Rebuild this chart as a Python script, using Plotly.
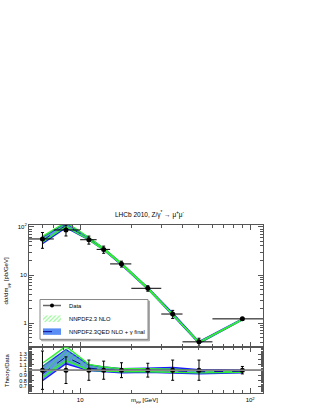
import plotly.graph_objects as go
import numpy as np

# ---------------- data ----------------
mass_center = [6.0, 8.25, 11.25, 13.75, 17.5, 25.0, 35.0, 50.0, 90.0]
mass_lo = [5.0, 7.0, 10.0, 12.5, 15.0, 20.0, 30.0, 40.0, 60.0]
mass_hi = [7.0, 10.0, 12.5, 15.0, 20.0, 30.0, 40.0, 60.0, 120.0]
xsec = [56.0, 86.0, 54.0, 34.0, 17.0, 5.3, 1.55, 0.41, 1.23]
rel_err = [0.36, 0.25, 0.19, 0.17, 0.14, 0.13, 0.19, 0.19, 0.07]

# theory / data ratios
nlo_lo = [0.86, 1.18, 1.00, 0.98, 0.97, 0.97, 0.96, 0.95, 0.96]
nlo_hi = [1.13, 1.45, 1.11, 1.06, 1.03, 1.03, 1.02, 0.99, 0.99]
qed_lo = [0.80, 1.12, 0.99, 0.97, 0.95, 0.96, 0.94, 0.93, 0.95]
qed_c = [0.93, 1.25, 1.04, 1.01, 0.99, 1.00, 0.99, 0.97, 0.98]
qed_hi = [1.07, 1.39, 1.10, 1.06, 1.03, 1.04, 1.05, 1.01, 1.00]

x = np.array(mass_center)
y = np.array(xsec)
err = y * np.array(rel_err)
ex_p = np.array(mass_hi) - x
ex_m = x - np.array(mass_lo)

W, H = 315, 407
FONT = "Liberation Sans, Arial, sans-serif"
FRAME = "#555555"
BLUE_FILL = "rgba(80,130,240,0.9)"
BLUE_EDGE = "#1a1aff"
BLUE_C = "#0a0a9a"
GREEN = "#33ee33"

# pixel geometry -> domains
x0p, x1p = 29, 263
top0, top1 = 224, 347
bot0, bot1 = 347, 393
xd = [x0p / W, x1p / W]
yd_top = [(H - top1) / H, (H - top0) / H]
yd_bot = [(H - bot1) / H, (H - bot0) / H]

fig = go.Figure()


def band(xa, ylo, yhi, xax, yax, kind):
    xs = list(xa) + list(xa)[::-1]
    ys = list(ylo) + list(yhi)[::-1]
    if kind == "qed":
        fig.add_trace(go.Scatter(x=xs, y=ys, fill="toself", fillcolor=BLUE_FILL,
                                 line=dict(color=BLUE_EDGE, width=1.3), mode="lines",
                                 xaxis=xax, yaxis=yax, showlegend=False, hoverinfo="skip"))
    else:
        fig.add_trace(go.Scatter(x=xs, y=ys, fill="toself", fillcolor="rgba(0,0,0,0)",
                                 fillpattern=dict(shape="/", fgcolor=GREEN, bgcolor="rgba(0,0,0,0)",
                                                  size=4, solidity=0.45),
                                 line=dict(color=GREEN, width=1.4), mode="lines",
                                 xaxis=xax, yaxis=yax, showlegend=False, hoverinfo="skip"))


# ---- top panel ----
band(x, y * np.array(qed_lo), y * np.array(qed_hi), "x", "y", "qed")
fig.add_trace(go.Scatter(x=x, y=y * np.array(qed_c), mode="lines",
                         line=dict(color=BLUE_C, width=1, dash="dash"),
                         xaxis="x", yaxis="y", showlegend=False, hoverinfo="skip"))
band(x, y * np.array(nlo_lo), y * np.array(nlo_hi), "x", "y", "nlo")
fig.add_trace(go.Scatter(x=x, y=y, mode="markers",
                         marker=dict(color="black", size=5),
                         error_y=dict(type="data", array=err, color="black", thickness=1, width=1.5),
                         error_x=dict(type="data", array=ex_p, arrayminus=ex_m, color="black",
                                      thickness=1, width=0),
                         xaxis="x", yaxis="y", showlegend=False))

# ---- ratio panel ----
fig.add_shape(type="line", xref="x2 domain", yref="y2", x0=0, x1=1, y0=1, y1=1,
              line=dict(color="#888888", width=1.5))
band(x, qed_lo, qed_hi, "x2", "y2", "qed")
band(x, nlo_lo, nlo_hi, "x2", "y2", "nlo")
fig.add_trace(go.Scatter(x=x, y=qed_c, mode="lines",
                         line=dict(color=BLUE_C, width=1, dash="dash"),
                         xaxis="x2", yaxis="y2", showlegend=False, hoverinfo="skip"))
fig.add_trace(go.Scatter(x=x, y=[1.0] * len(x), mode="markers",
                         marker=dict(color="black", size=5),
                         error_y=dict(type="data", array=rel_err, color="black", thickness=1, width=1.5),
                         error_x=dict(type="data", array=ex_p, arrayminus=ex_m, color="black",
                                      thickness=1, width=0),
                         xaxis="x2", yaxis="y2", showlegend=False))

# ---- legend drawn in pixel space (overlay axes) ----
lx0, lx1, ly0, ly1 = 40, 148, 299, 339
fig.add_shape(type="rect", xref="x3", yref="y3", x0=lx0 + 1.5, x1=lx1 + 1.5, y0=ly0 + 1.5, y1=ly1 + 1.5,
              line=dict(color="#aaaaaa", width=1), fillcolor="#aaaaaa", layer="below")
fig.add_shape(type="rect", xref="x3", yref="y3", x0=lx0, x1=lx1, y0=ly0, y1=ly1,
              line=dict(color="#888888", width=1), fillcolor="white", layer="below")
# Data entry
fig.add_trace(go.Scatter(x=[43, 61], y=[305, 305], mode="lines", line=dict(color="#666666", width=1.5),
                         xaxis="x3", yaxis="y3", showlegend=False, hoverinfo="skip"))
fig.add_trace(go.Scatter(x=[52], y=[305], mode="markers", marker=dict(color="black", size=4),
                         xaxis="x3", yaxis="y3", showlegend=False, hoverinfo="skip"))
# NLO entry
fig.add_trace(go.Scatter(x=[43, 61, 61, 43, 43], y=[315, 315, 321.5, 321.5, 315], mode="lines",
                         fill="toself", fillcolor="rgba(0,0,0,0)",
                         fillpattern=dict(shape="/", fgcolor=GREEN, bgcolor="rgba(0,0,0,0)", size=3, solidity=0.4),
                         line=dict(width=0, color="rgba(0,0,0,0)"),
                         xaxis="x3", yaxis="y3", showlegend=False, hoverinfo="skip"))
# QED entry
fig.add_trace(go.Scatter(x=[43, 61, 61, 43, 43], y=[328, 328, 334.5, 334.5, 328], mode="lines",
                         fill="toself", fillcolor="#5b8ef5",
                         line=dict(width=0, color="rgba(0,0,0,0)"),
                         xaxis="x3", yaxis="y3", showlegend=False, hoverinfo="skip"))
fig.add_trace(go.Scatter(x=[43, 61], y=[331.3, 331.3], mode="lines",
                         line=dict(color=BLUE_C, width=1, dash="dash"),
                         xaxis="x3", yaxis="y3", showlegend=False, hoverinfo="skip"))

leg_text = ["Data", "NNPDF2.3 NLO", "NNPDF2.3QED NLO + γ final"]
leg_y = [305, 318.3, 331.3]
for t, yy in zip(leg_text, leg_y):
    fig.add_annotation(x=67, y=yy, xref="x3", yref="y3", text=t, showarrow=False,
                       xanchor="left", yanchor="middle", font=dict(size=5.8, color="black", family=FONT))

# titles
fig.add_annotation(x=150, y=214, xref="x3", yref="y3", text="LHCb 2010, Z/γ<sup>*</sup> → μ<sup>+</sup>μ<sup>-</sup>",
                   showarrow=False, xanchor="center", yanchor="middle",
                   font=dict(size=6.5, color="black", family=FONT))
fig.add_annotation(x=7, y=280, xref="x3", yref="y3", text="dσ/dm<sub>μμ</sub> [pb/GeV]",
                   showarrow=False, textangle=-90, xanchor="center", yanchor="middle",
                   font=dict(size=6, color="black", family=FONT))
fig.add_annotation(x=7, y=370, xref="x3", yref="y3", text="Theory/Data",
                   showarrow=False, textangle=-90, xanchor="center", yanchor="middle",
                   font=dict(size=6, color="black", family=FONT))
fig.add_annotation(x=144, y=400, xref="x3", yref="y3", text="m<sub>μμ</sub> [GeV]",
                   showarrow=False, xanchor="center", yanchor="middle",
                   font=dict(size=6, color="black", family=FONT))

# ---- axes ----
xmaj = [10, 100]
xmin = [v * d for d in [1, 10, 100] for v in range(2, 10) if 5 <= v * d <= 119] + [10, 100]
common_x = dict(type="log", range=[np.log10(5.0), np.log10(119.0)], domain=xd,
                showline=True, linecolor=FRAME, linewidth=1, mirror="allticks",
                ticks="inside", ticklen=5, tickcolor=FRAME, tickvals=xmaj,
                showgrid=False, zeroline=False,
                minor=dict(tickmode="array", tickvals=xmin, ticks="inside", ticklen=3, tickcolor=FRAME,
                           showgrid=False),
                tickfont=dict(size=6, family=FONT, color="black"))
fig.update_layout(
    xaxis=dict(common_x, anchor="y", showticklabels=False, matches="x2"),
    xaxis2=dict(common_x, anchor="y2", ticktext=["10", "10<sup>2</sup>"], ticklabelstandoff=1),
    yaxis=dict(type="log", range=[-0.5, 2.04], domain=yd_top, anchor="x",
               showline=True, linecolor=FRAME, linewidth=1, mirror="allticks",
               ticks="inside", ticklen=5, tickcolor=FRAME,
               tickvals=[1, 10, 100], ticktext=["1", "10", "10<sup>2</sup>"],
               minor=dict(tickmode="array",
                          tickvals=[v * d for d in [0.1, 1, 10, 100] for v in range(2, 10)],
                          ticks="inside", ticklen=3, tickcolor=FRAME, showgrid=False),
               showgrid=False, zeroline=False,
               tickfont=dict(size=6, family=FONT, color="black")),
    yaxis2=dict(range=[0.57, 1.43], domain=yd_bot, anchor="x2",
                showline=True, linecolor=FRAME, linewidth=1, mirror="allticks",
                ticks="inside", ticklen=5, tickcolor=FRAME,
                tickvals=[0.7, 0.8, 0.9, 1.0, 1.1, 1.2, 1.3],
                ticktext=["0.7", "0.8", "0.9", "1", "1.1", "1.2", "1.3"],
                minor=dict(tickmode="array",
                           tickvals=[round(0.6 + 0.02 * i, 2) for i in range(42)],
                           ticks="inside", ticklen=2.5, tickcolor=FRAME, showgrid=False),
                showgrid=False, zeroline=False,
                tickfont=dict(size=5.5, family=FONT, color="black")),
    xaxis3=dict(domain=[0, 1], range=[0, W], visible=False, fixedrange=True, anchor="y3"),
    yaxis3=dict(domain=[0, 1], range=[H, 0], visible=False, fixedrange=True, anchor="x3"),
    width=W, height=H, autosize=False,
    margin=dict(l=0, r=0, t=0, b=0, pad=0),
    paper_bgcolor="white", plot_bgcolor="rgba(0,0,0,0)",
    showlegend=False,
)

fig.write_html("out.html", config={"displayModeBar": False, "staticPlot": True},
               post_script="document.body.style.margin='0px';document.body.style.overflow='hidden';")
